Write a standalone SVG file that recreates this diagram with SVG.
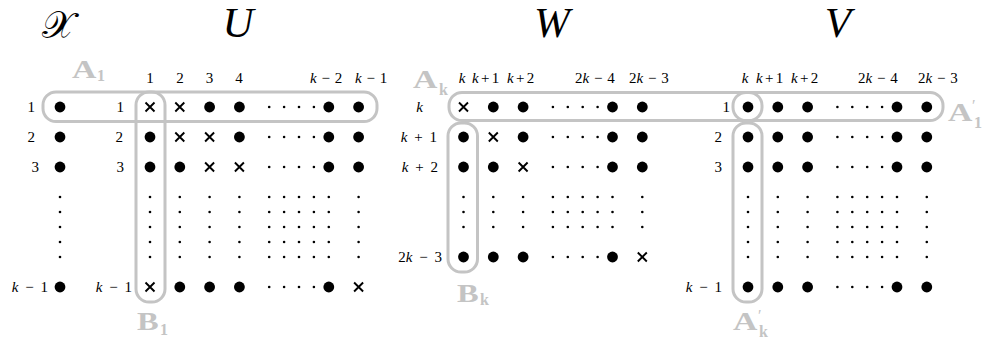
<svg xmlns="http://www.w3.org/2000/svg" xmlns:xlink="http://www.w3.org/1999/xlink" width="989" height="347" viewBox="0 0 989 347">
<style>
.t{font-family:"Liberation Serif","Times New Roman",serif;font-size:15px;fill:#000}
.i{font-style:italic}
.big{font-family:"Liberation Serif","DejaVu Serif",serif;font-size:43px;font-style:italic;fill:#000}
.box{fill:none;stroke:#c4c4c4;stroke-width:3}
.lab{font-family:"Liberation Serif","DejaVu Serif",serif;font-weight:bold;fill:#c4c4c4}
.rl{text-anchor:end;word-spacing:3px}
.hl{word-spacing:1px}
.hn{word-spacing:-1.5px}
</style>
<defs>
<circle id="d" r="5.4" fill="#000"/>
<path id="x" d="M-4.5,-4.5L4.5,4.5M4.5,-4.5L-4.5,4.5" stroke="#000" stroke-width="1.9" fill="none"/>
<circle id="s" r="1.3" fill="#000"/>
<g id="h4"><use href="#s" x="0"/><use href="#s" x="14.9"/><use href="#s" x="29.8"/><use href="#s" x="44.7"/></g>
<g id="uRow"><use href="#s" x="150"/><use href="#s" x="179.8"/><use href="#s" x="209.6"/><use href="#s" x="239.4"/><use href="#h4" x="269.2"/><use href="#s" x="328.8"/><use href="#s" x="358.6"/></g>
<g id="wRow"><use href="#s" x="463.5"/><use href="#s" x="493.3"/><use href="#s" x="523.1"/><use href="#h4" x="552.9"/><use href="#s" x="612.5"/><use href="#s" x="642.3"/></g>
<g id="vRow"><use href="#s" x="748"/><use href="#s" x="777.8"/><use href="#s" x="807.6"/><use href="#h4" x="837.4"/><use href="#s" x="897"/><use href="#s" x="926.8"/></g>
<g id="vFull"><use href="#d" x="748"/><use href="#d" x="777.8"/><use href="#d" x="807.6"/><use href="#h4" x="837.4"/><use href="#d" x="897"/><use href="#d" x="926.8"/></g>
</defs>

<!-- titles -->
<g id="titles">
<text x="58" y="38" text-anchor="middle" style="font-family:'DejaVu Serif','DejaVu Sans','Noto Sans',serif;font-size:38px;fill:#000">𝒳</text>
<text class="big" x="238" y="37" text-anchor="middle">U</text>
<text class="big" x="552" y="37" text-anchor="middle">W</text>
<text class="big" x="838" y="37" text-anchor="middle">V</text>
</g>

<!-- highlight boxes -->
<g id="boxes">
<rect id="boxA1" class="box" x="43" y="92" width="334" height="29.5" rx="13"/>
<rect id="boxB1" class="box" x="136" y="92" width="29" height="210" rx="13"/>
<rect id="boxAk" class="box" x="449" y="92.5" width="313" height="28" rx="13"/>
<rect id="boxBk" class="box" x="448" y="123" width="29.5" height="149" rx="13"/>
<rect id="boxA1p" class="box" x="733" y="92.5" width="210" height="28" rx="13"/>
<rect id="boxAkp" class="box" x="733" y="123" width="29" height="179" rx="13"/>
</g>

<!-- box labels -->
<g id="labels">
<text class="lab" font-size="25" transform="translate(72 78) scale(1.35 1)">A</text>
<text class="lab" x="97" y="81" font-size="16">1</text>
<text class="lab" font-size="25" transform="translate(137 330) scale(1.3 1)">B</text>
<text class="lab" x="160" y="335" font-size="16">1</text>
<text class="lab" font-size="25" transform="translate(413 88) scale(1.35 1)">A</text>
<text class="lab" x="439" y="95" font-size="16">k</text>
<text class="lab" font-size="25" transform="translate(457 302) scale(1.3 1)">B</text>
<text class="lab" x="480" y="305" font-size="16">k</text>
<text class="lab" font-size="25" transform="translate(948 121) scale(1.35 1)">A</text>
<text class="lab" x="972" y="111" font-size="16" style="font-weight:normal">′</text>
<text class="lab" x="974" y="128" font-size="16">1</text>
<text class="lab" font-size="25" transform="translate(733 330) scale(1.35 1)">A</text>
<text class="lab" x="758" y="321" font-size="16" style="font-weight:normal">′</text>
<text class="lab" x="759" y="337" font-size="16">k</text>
</g>

<!-- matrix X -->
<g id="matX">
<text class="t rl" x="35" y="112">1</text>
<text class="t rl" x="35" y="142">2</text>
<text class="t rl" x="39" y="172">3</text>
<text class="t rl" x="48" y="292"><tspan class="i">k</tspan> − 1</text>
<use href="#d" x="60" y="107"/><use href="#d" x="60" y="137"/><use href="#d" x="60" y="167"/>
<use href="#s" x="60" y="197"/><use href="#s" x="60" y="212"/><use href="#s" x="60" y="227"/><use href="#s" x="60" y="242"/><use href="#s" x="60" y="257"/>
<use href="#d" x="60" y="287"/>
</g>

<!-- matrix U -->
<g id="matU">
<text class="t" x="150" y="83" text-anchor="middle">1</text>
<text class="t" x="180" y="83" text-anchor="middle">2</text>
<text class="t" x="209.5" y="83" text-anchor="middle">3</text>
<text class="t" x="239" y="83" text-anchor="middle">4</text>
<text class="t hl" x="310" y="83"><tspan class="i">k</tspan> − 2</text>
<text class="t hl" x="355" y="83"><tspan class="i">k</tspan> − 1</text>
<text class="t rl" x="124" y="112">1</text>
<text class="t rl" x="123" y="142">2</text>
<text class="t rl" x="124" y="172">3</text>
<text class="t rl" x="132" y="292"><tspan class="i">k</tspan> − 1</text>
<g transform="translate(0 107)"><use href="#x" x="150"/><use href="#x" x="179.8"/><use href="#d" x="209.6"/><use href="#d" x="239.4"/><use href="#h4" x="269.2"/><use href="#d" x="328.8"/><use href="#d" x="358.6"/></g>
<g transform="translate(0 137)"><use href="#d" x="150"/><use href="#x" x="179.8"/><use href="#x" x="209.6"/><use href="#d" x="239.4"/><use href="#h4" x="269.2"/><use href="#d" x="328.8"/><use href="#d" x="358.6"/></g>
<g transform="translate(0 167)"><use href="#d" x="150"/><use href="#d" x="179.8"/><use href="#x" x="209.6"/><use href="#x" x="239.4"/><use href="#h4" x="269.2"/><use href="#d" x="328.8"/><use href="#d" x="358.6"/></g>
<use href="#uRow" y="197"/><use href="#uRow" y="212"/><use href="#uRow" y="227"/><use href="#uRow" y="242"/><use href="#uRow" y="257"/>
<g transform="translate(0 287)"><use href="#x" x="150"/><use href="#d" x="179.8"/><use href="#d" x="209.6"/><use href="#d" x="239.4"/><use href="#h4" x="269.2"/><use href="#d" x="328.8"/><use href="#x" x="358.6"/></g>
</g>

<!-- matrix W -->
<g id="matW">
<text class="t i" x="462" y="83" text-anchor="middle">k</text>
<text class="t hn" x="472" y="83"><tspan class="i">k</tspan> + 1</text>
<text class="t hn" x="507" y="83"><tspan class="i">k</tspan> + 2</text>
<text class="t hl" x="575" y="83">2<tspan class="i">k</tspan> − 4</text>
<text class="t hl" x="629" y="83">2<tspan class="i">k</tspan> − 3</text>
<text class="t rl i" x="423" y="112">k</text>
<text class="t rl" x="437" y="142"><tspan class="i">k</tspan> + 1</text>
<text class="t rl" x="438" y="172"><tspan class="i">k</tspan> + 2</text>
<text class="t rl" x="442" y="262">2<tspan class="i">k</tspan> − 3</text>
<g transform="translate(0 107)"><use href="#x" x="463.5"/><use href="#d" x="493.3"/><use href="#d" x="523.1"/><use href="#h4" x="552.9"/><use href="#d" x="612.5"/><use href="#d" x="642.3"/></g>
<g transform="translate(0 137)"><use href="#d" x="463.5"/><use href="#x" x="493.3"/><use href="#d" x="523.1"/><use href="#h4" x="552.9"/><use href="#d" x="612.5"/><use href="#d" x="642.3"/></g>
<g transform="translate(0 167)"><use href="#d" x="463.5"/><use href="#d" x="493.3"/><use href="#x" x="523.1"/><use href="#h4" x="552.9"/><use href="#d" x="612.5"/><use href="#d" x="642.3"/></g>
<use href="#wRow" y="197"/><use href="#wRow" y="212"/><use href="#wRow" y="227"/>
<g transform="translate(0 257)"><use href="#d" x="463.5"/><use href="#d" x="493.3"/><use href="#d" x="523.1"/><use href="#h4" x="552.9"/><use href="#d" x="612.5"/><use href="#x" x="642.3"/></g>
</g>

<!-- matrix V -->
<g id="matV">
<text class="t i" x="745" y="83" text-anchor="middle">k</text>
<text class="t hn" x="756" y="83"><tspan class="i">k</tspan> + 1</text>
<text class="t hn" x="791" y="83"><tspan class="i">k</tspan> + 2</text>
<text class="t hl" x="858" y="83">2<tspan class="i">k</tspan> − 4</text>
<text class="t hl" x="918" y="83">2<tspan class="i">k</tspan> − 3</text>
<text class="t rl" x="730" y="112">1</text>
<text class="t rl" x="722" y="142">2</text>
<text class="t rl" x="722" y="172">3</text>
<text class="t rl" x="722" y="292"><tspan class="i">k</tspan> − 1</text>
<use href="#vFull" y="107"/><use href="#vFull" y="137"/><use href="#vFull" y="167"/>
<use href="#vRow" y="197"/><use href="#vRow" y="212"/><use href="#vRow" y="227"/><use href="#vRow" y="242"/><use href="#vRow" y="257"/>
<use href="#vFull" y="287"/>
</g>
</svg>
